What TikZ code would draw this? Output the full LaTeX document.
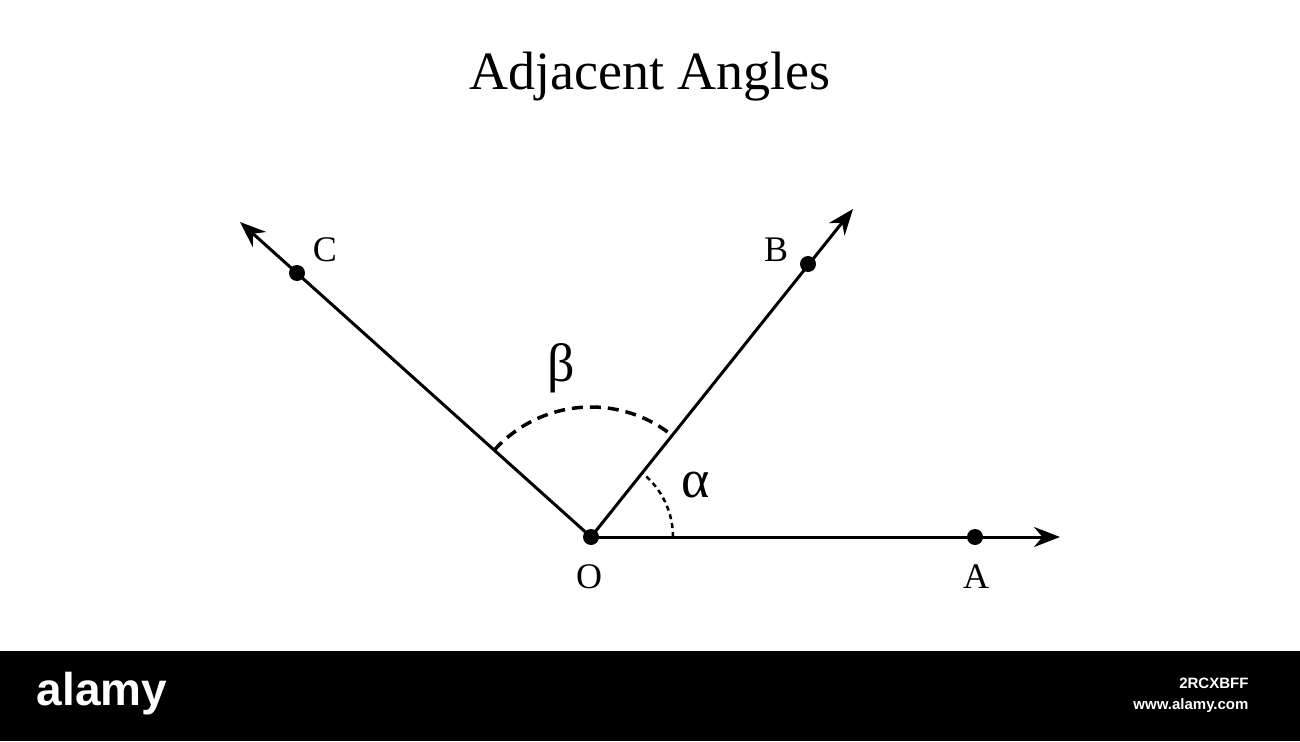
\documentclass[tikz,border=0pt]{standalone}
\usepackage{fontspec}
\setmainfont{Liberation Serif}
\newfontfamily\sansf{Liberation Sans}
\usetikzlibrary{arrows.meta}
\begin{document}
\begin{tikzpicture}[x=1pt,y=-1pt,
  ray/.style={line width=3pt,-{Stealth[length=26pt,width=20pt]}},
  pt/.style={circle,fill=black,inner sep=0pt,minimum size=16pt},
  lbl/.style={font=\fontsize{36}{36}\selectfont}]
\useasboundingbox (0,0) rectangle (1300,741);
\fill[black] (0,651) rectangle (1300,741);
\node[font=\fontsize{54}{54}\selectfont] (title) at (650,77) {Adjacent Angles};
\coordinate (O) at (591,537);
\coordinate (Ae) at (1060,537);
\coordinate (Be) at (853,209);
\coordinate (Ce) at (240,222);
\draw[ray] (O) -- (Ae);
\draw[ray] (O) -- (Be);
\draw[ray] (O) -- (Ce);
\node[pt] (o) at (O) {};
\node[pt] (a) at (975,537) {};
\node[pt] (b) at (808,264) {};
\node[pt] (c) at (297,273) {};
\draw[line width=3.5pt,dash pattern=on 11pt off 7pt] ([shift={(-138.1:130)}]O) arc[start angle=-138.1,end angle=-51.5,radius=130];
\draw[line width=2.5pt,dash pattern=on 5pt off 4pt] ([shift={(0:82)}]O) arc[start angle=0,end angle=-51.5,radius=82];
\node[lbl] (lc) at (325,250) {C};
\node[lbl] (lb) at (776,250) {B};
\node[lbl] (lo) at (589,577) {O};
\node[lbl] (la) at (976,577) {A};
\node[font=\fontsize{54}{54}\selectfont] (beta) at (561,368) {β};
\node[font=\fontsize{54}{54}\selectfont] (alpha) at (696,485) {α};
\node[white,font=\sansf\bfseries\fontsize{46}{46}\selectfont] (al) at (102,694) {alamy};
\node[white,font=\sansf\bfseries\fontsize{15}{15}\selectfont,align=right,anchor=east] (id) at (1252,695) {2RCXBFF\\[6pt]www.alamy.com};
\end{tikzpicture}
\end{document}
